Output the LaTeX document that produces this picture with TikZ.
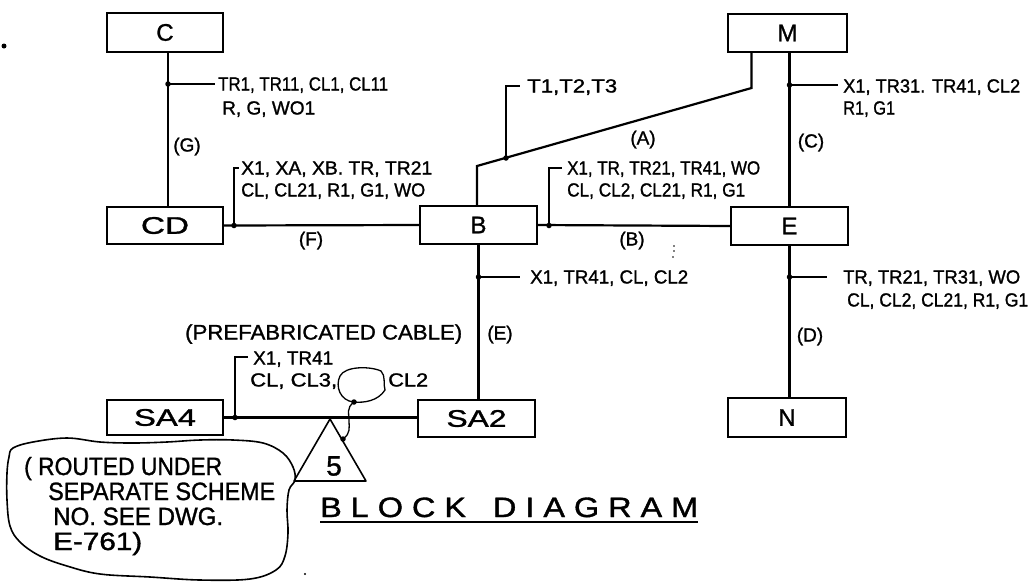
\documentclass[tikz,border=0pt]{standalone}
\usepackage{fontspec}
\usepackage{graphicx}
\setmainfont[FakeBold=1.2]{Liberation Sans}
\newcommand\fitw[2]{\resizebox{#1pt}{\height}{#2}}
\begin{document}
\begin{tikzpicture}[x=1pt,y=-1pt,
  box/.style={draw, line width=1.8pt, inner sep=0pt, font=\fontsize{24}{24}\selectfont},
  wire/.style={line width=2.2pt},
  lead/.style={line width=1.3pt},
  jdot/.style={circle, fill, inner sep=0pt, minimum size=5.5pt},
  lab/.style={inner sep=0pt, anchor=base west, font=\fontsize{19}{19}\selectfont},
  par/.style={inner sep=0pt, anchor=base, font=\fontsize{19}{19}\selectfont},
  cloudtxt/.style={inner sep=0pt, anchor=base west, font=\fontsize{25}{25}\selectfont}]
\useasboundingbox (0,0) rectangle (1032,582);

% boxes
\node[box, minimum width=116pt, minimum height=39pt] (C) at (165,32.5) {C};
\node[box, minimum width=119pt, minimum height=38pt] (M) at (787.5,33) {M};
\node[box, minimum width=116pt, minimum height=37pt] (CD) at (165,225.5) {\fitw{48}{CD}};
\node[box, minimum width=117pt, minimum height=38pt] (B) at (478.5,225) {B};
\node[box, minimum width=117pt, minimum height=38pt] (E) at (789.5,226) {E};
\node[box, minimum width=116pt, minimum height=35pt] (SA4) at (165,417.5) {\fitw{62}{SA4}};
\node[box, minimum width=117pt, minimum height=37pt] (SA2) at (476.5,418.5) {\fitw{60}{SA2}};
\node[box, minimum width=118pt, minimum height=39pt] (N) at (787,417.5) {N};

% cables
\coordinate (mA) at (751.5,88);
\coordinate (mB) at (477,166);
\draw[wire] ([xshift=3pt]C.south) -- ([xshift=3pt]CD.north);
\draw[wire] ([xshift=-36pt]M.south) -- (mA) -- (mB) -- (mB |- B.north);
\draw[wire] (M.south -| E.north) -- (E.north);
\draw[wire] (CD.east) -- (B.west);
\draw[wire] (B.east) -- (E.west);
\draw[wire] (B.south) -- (B.south |- SA2.north);
\draw[wire] (E.south) -- (E.south |- N.north);
\draw[wire] (SA4.east) -- (SA4.east -| SA2.west);

% cable (G)
\node[jdot] (dC) at (168,84) {};
\coordinate (eC) at (215,84);
\draw[lead] (dC.center) -- (eC);
\node[lab] (tC1) at (218,90.5) {\fitw{170}{TR1, TR11, CL1, CL11}};
\node[lab] (tC2) at (222,114.5) {\fitw{93}{R, G, WO1}};
\node[par] (pG) at (187,151.5) {(G)};

% cable (F)
\node[jdot] (dCD) at (234,225.5) {};
\coordinate (eCD) at (239,168);
\draw[lead] (dCD.center) |- (eCD);
\node[lab] (tCD1) at (241,174.5) {\fitw{191}{X1, XA, XB. TR, TR21}};
\node[lab] (tCD2) at (241,196.5) {\fitw{184}{CL, CL21, R1, G1, WO}};
\node[par] (pF) at (311,245.5) {(F)};

% cable (B)
\node[jdot] (dBE) at (549,225.5) {};
\coordinate (eBE) at (562,168);
\draw[lead] (dBE.center) |- (eBE);
\node[lab] (tBE1) at (567,174.5) {\fitw{193}{X1, TR, TR21, TR41, WO}};
\node[lab] (tBE2) at (567,196.5) {\fitw{178}{CL, CL2, CL21, R1, G1}};
\node[par] (pB) at (632,245.5) {(B)};

% cable (A)
\node[jdot] (dA) at (506,158) {};
\coordinate (eA) at (520,86);
\draw[lead] (dA.center) |- (eA);
\node[lab] (tA) at (527,92.5) {\fitw{90}{T1,T2,T3}};
\node[par] (pA) at (643,144.5) {(A)};

% cable (C)
\node[jdot] (dM) at (789.5,85) {};
\coordinate (eM) at (838,85);
\draw[lead] (dM.center) -- (eM);
\node[lab] (tM1) at (843,92.5) {\fitw{177}{X1, TR31. TR41, CL2}};
\node[lab] (tM2) at (843,114.5) {\fitw{52}{R1, G1}};
\node[par] (pC) at (811,147.5) {(C)};

% cable (D)
\node[jdot] (dEN) at (789.5,277) {};
\coordinate (eEN) at (827,277);
\draw[lead] (dEN.center) -- (eEN);
\node[lab] (tEN1) at (843,283.5) {\fitw{177}{TR, TR21, TR31, WO}};
\node[lab] (tEN2) at (847,306.5) {\fitw{181}{CL, CL2, CL21, R1, G1}};
\node[par] (pD) at (810,341.5) {(D)};

% cable (E)
\node[jdot] (dBS) at (478.5,277) {};
\coordinate (eBS) at (520,277);
\draw[lead] (dBS.center) -- (eBS);
\node[lab] (tBS) at (530,283.5) {\fitw{158}{X1, TR41, CL, CL2}};
\node[par] (pE) at (500,339.5) {(E)};

% prefabricated cable
\node[inner sep=0pt, anchor=base west, font=\fontsize{21}{21}\selectfont] (pre) at (185,339.5) {\fitw{277}{(PREFABRICATED CABLE)}};
\node[jdot] (dSA) at (235,417.5) {};
\coordinate (eSA) at (248,357);
\draw[lead] (dSA.center) |- (eSA);
\node[lab] (tSA1) at (253,364.5) {\fitw{80}{X1, TR41}};
\node[lab] (tSA2) at (250,386.5) {\fitw{87}{CL, CL3,}};
\node[lab] (tSA3) at (388,386.5) {\fitw{40}{CL2}};

% loop and link to triangle
\node[jdot] (dL) at (354,402) {};
\node[jdot] (dT) at (343,439) {};
\draw[lead] (dL.center) .. controls (340,401) and (335,386) .. (340,376)
  .. controls (345,366) and (370,366) .. (381,371)
  .. controls (386,376) and (383,384) .. (385,390)
  .. controls (378,401) and (364,403) .. (dL.center);
\draw[lead] (dL.center) .. controls (346,408) and (349,414) .. (349,420)
  .. controls (349,428) and (351,433) .. (dT.center);

% triangle 5
\coordinate (t1) at (330,419);
\coordinate (t2) at (294,481);
\coordinate (t3) at (366,481);
\draw[line width=1.6pt, line join=round] (t1) -- (t2) -- (t3) -- cycle;
\node[inner sep=0pt, font=\fontsize{28}{28}\selectfont] (five) at (334,466) {5};

% cloud note
\draw[line width=1.6pt] plot[smooth cycle, tension=0.6] coordinates {
  (13,448) (33,442) (67,438) (100,442) (133,443) (167,442) (200,440) (233,440)
  (263,443) (283,453) (293,467) (295,480) (289,490) (287,510) (288,533)
  (285,556) (276,570) (250,579) (200,580) (150,577) (100,574) (67,566)
  (40,556) (20,542) (10,526) (7,500) (7,473) (9,457)};
\node[cloudtxt] (n1) at (24,475) {\fitw{198}{( ROUTED UNDER}};
\node[cloudtxt] (n2) at (48,500) {\fitw{227}{SEPARATE SCHEME}};
\node[cloudtxt] (n3) at (53,525) {\fitw{170}{NO. SEE DWG.}};
\node[cloudtxt] (n4) at (53,550) {\fitw{89}{E-761)}};

% title
\node[inner sep=0pt, anchor=base west, font=\fontsize{28}{28}\selectfont] (title) at (320,517) {\fitw{378}{B L O C K \ \ D I A G R A M}};
\draw[line width=1.5pt] (title.base west |- 0,522) -- (698,522);

% specks
\fill (4,46) circle (2.5pt);
\fill (305,574) circle (1.2pt);
\fill (674,246) circle (0.8pt);
\fill (674,251) circle (0.9pt);
\fill (673,257) circle (0.8pt);
\end{tikzpicture}
\end{document}
